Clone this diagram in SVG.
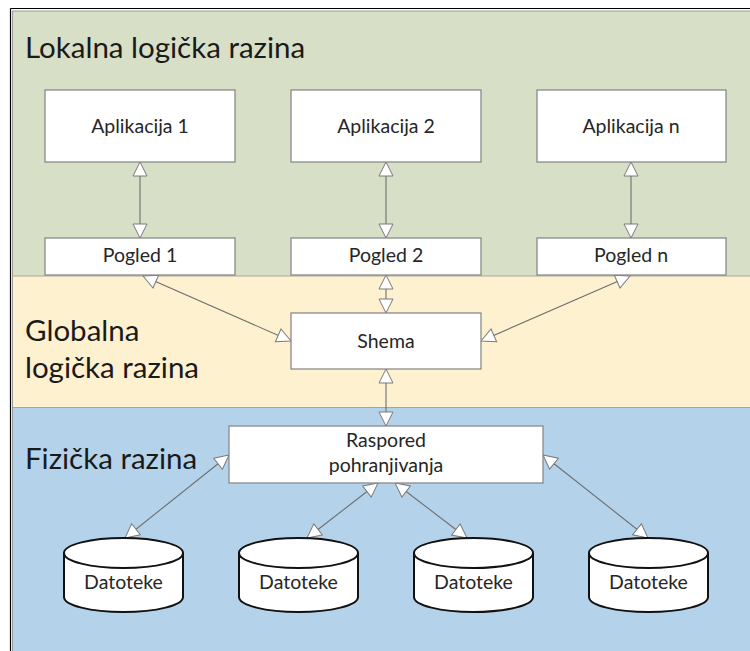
<svg xmlns="http://www.w3.org/2000/svg" width="750" height="651" viewBox="0 0 750 651">
  <style>
    .band-label { font-family: Lato, "Liberation Sans", sans-serif; font-size: 29.5px; fill: #1a1a1a; }
    .box { fill: #ffffff; stroke: #8a8a8a; stroke-width: 1.3; }
    .lbl { font-family: Lato, "Liberation Sans", sans-serif; font-size: 19.5px; fill: #262626; text-anchor: middle; }
    .conn { stroke: #6e6e6e; stroke-width: 1.1; fill: none; marker-start: url(#tri); marker-end: url(#tri); }
    .cyl { fill: #ffffff; stroke: #111111; stroke-width: 2; }
  </style>
  <defs>
    <marker id="tri" markerUnits="userSpaceOnUse" markerWidth="16" markerHeight="16" viewBox="-1 -1 16 16" refX="14" refY="7" orient="auto-start-reverse">
      <path d="M0,0 L14,7 L0,14 Z" fill="#ffffff" stroke="#7a7a7a" stroke-width="1"/>
    </marker>
  </defs>

  <rect x="0" y="0" width="750" height="651" fill="#ffffff"/>

  <!-- layer bands -->
  <g id="bands">
    <rect x="12" y="11" width="738" height="265" fill="#d7dfc7"/>
    <rect x="12" y="276" width="738" height="132" fill="#fdf1d0"/>
    <rect x="12" y="408" width="738" height="243" fill="#b4d3eb"/>
    <line x1="12" y1="276" x2="750" y2="276" stroke="#a9a9a0" stroke-width="1"/>
    <line x1="12" y1="407.5" x2="750" y2="407.5" stroke="#8fa9bd" stroke-width="1"/>
    <!-- outer frame -->
    <line x1="10.5" y1="8.5" x2="750" y2="8.5" stroke="#000000" stroke-width="1.2"/>
    <line x1="10.5" y1="8.5" x2="10.5" y2="651" stroke="#000000" stroke-width="1.2"/>
    <line x1="12" y1="11" x2="750" y2="11" stroke="#9a9a9a" stroke-width="1"/>
    <line x1="12.5" y1="11" x2="12.5" y2="651" stroke="#9a9a9a" stroke-width="1"/>
  </g>

  <g id="layer-labels">
    <text class="band-label" x="25" y="58">Lokalna logička razina</text>
    <text class="band-label" x="25" y="341">Globalna</text>
    <text class="band-label" x="25" y="378">logička razina</text>
    <text class="band-label" x="25" y="469">Fizička razina</text>
  </g>

  <!-- connectors -->
  <g id="connectors">
    <line class="conn" x1="140" y1="162" x2="140" y2="238"/>
    <line class="conn" x1="386" y1="162" x2="386" y2="238"/>
    <line class="conn" x1="631" y1="162" x2="631" y2="238"/>
    <line class="conn" x1="143" y1="276" x2="291" y2="341"/>
    <line class="conn" x1="386" y1="275" x2="386" y2="313"/>
    <line class="conn" x1="630" y1="276" x2="481" y2="341"/>
    <line class="conn" x1="386" y1="369" x2="386" y2="426"/>
    <line class="conn" x1="229" y1="455" x2="125" y2="538"/>
    <line class="conn" x1="378" y1="483" x2="307" y2="538"/>
    <line class="conn" x1="395" y1="483" x2="467" y2="538"/>
    <line class="conn" x1="543" y1="455" x2="648" y2="538"/>
  </g>

  <g id="app1"><rect class="box" x="45" y="90" width="190" height="72"/><text class="lbl" x="140" y="133">Aplikacija 1</text></g>
  <g id="app2"><rect class="box" x="291" y="90" width="190" height="72"/><text class="lbl" x="386" y="133">Aplikacija 2</text></g>
  <g id="appn"><rect class="box" x="537" y="90" width="189" height="72"/><text class="lbl" x="631" y="133">Aplikacija n</text></g>

  <g id="view1"><rect class="box" x="45" y="238" width="190" height="37"/><text class="lbl" x="140" y="262">Pogled 1</text></g>
  <g id="view2"><rect class="box" x="291" y="238" width="190" height="37"/><text class="lbl" x="386" y="262">Pogled 2</text></g>
  <g id="viewn"><rect class="box" x="537" y="238" width="189" height="37"/><text class="lbl" x="631" y="262">Pogled n</text></g>

  <g id="schema"><rect class="box" x="291" y="313" width="190" height="56"/><text class="lbl" x="386" y="348">Shema</text></g>

  <g id="storage"><rect class="box" x="229" y="426" width="314" height="57"/>
    <text class="lbl" x="386" y="447">Raspored</text>
    <text class="lbl" x="386" y="472">pohranjivanja</text>
  </g>

  <g id="files1">
    <path class="cyl" d="M64,553 A59.5,15 0 0 1 183,553 L183,597 A59.5,15 0 0 1 64,597 Z"/>
    <path class="cyl" d="M64,553 A59.5,15 0 0 0 183,553" fill="none"/>
    <text class="lbl" x="123.5" y="589">Datoteke</text>
  </g>
  <g id="files2">
    <path class="cyl" d="M239,553 A59.5,15 0 0 1 358,553 L358,597 A59.5,15 0 0 1 239,597 Z"/>
    <path class="cyl" d="M239,553 A59.5,15 0 0 0 358,553" fill="none"/>
    <text class="lbl" x="298.5" y="589">Datoteke</text>
  </g>
  <g id="files3">
    <path class="cyl" d="M414,553 A59.5,15 0 0 1 533,553 L533,597 A59.5,15 0 0 1 414,597 Z"/>
    <path class="cyl" d="M414,553 A59.5,15 0 0 0 533,553" fill="none"/>
    <text class="lbl" x="473.5" y="589">Datoteke</text>
  </g>
  <g id="files4">
    <path class="cyl" d="M589,553 A59.5,15 0 0 1 708,553 L708,597 A59.5,15 0 0 1 589,597 Z"/>
    <path class="cyl" d="M589,553 A59.5,15 0 0 0 708,553" fill="none"/>
    <text class="lbl" x="648.5" y="589">Datoteke</text>
  </g>
</svg>
